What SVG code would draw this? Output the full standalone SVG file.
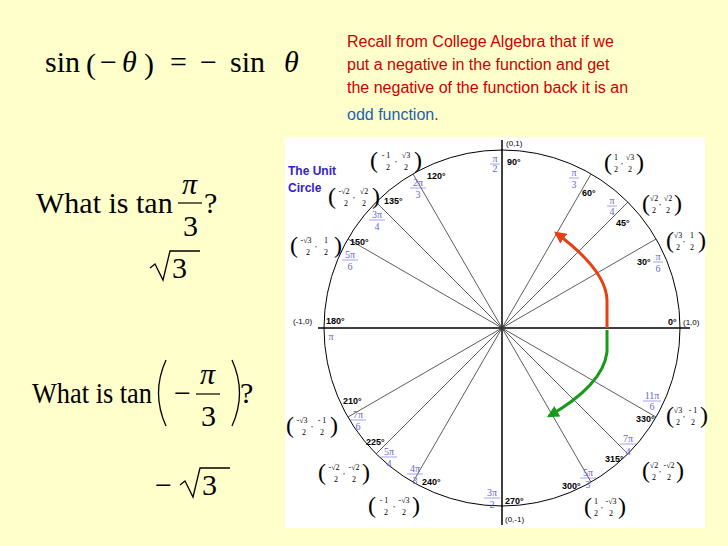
<svg xmlns="http://www.w3.org/2000/svg" width="728" height="546" viewBox="0 0 728 546">
<defs>
<style>
.m{font-family:"Liberation Serif",serif;font-size:30px;fill:#000}
.i{font-style:italic}
.r{font-family:"Liberation Sans",sans-serif;font-size:16px;fill:#cc0000}
.sp{stroke:#333;stroke-width:0.8}
.deg{font-family:"Liberation Sans",sans-serif;font-size:9px;font-weight:bold;fill:#000}
.rad{font-family:"Liberation Serif",serif;font-size:10px;fill:#6666dd;text-anchor:middle}
.co{font-family:"Liberation Serif",serif;font-size:8px;fill:#000;text-anchor:middle}
.par{font-family:"Liberation Serif",serif;font-size:24px;fill:#000}
</style>
<marker id="ar" viewBox="0 0 10 10" refX="8" refY="5" markerWidth="4" markerHeight="4" orient="auto"><path d="M0,0L10,5L0,10z" fill="#e84010"/></marker>
<marker id="ag" viewBox="0 0 10 10" refX="8" refY="5" markerWidth="4" markerHeight="4" orient="auto"><path d="M0,0L10,5L0,10z" fill="#1a9a1a"/></marker>
</defs>
<rect width="728" height="546" fill="#ffffcc"/>
<g id="eq1">
<text x="45" y="72" class="m" font-size="32">sin</text>
<text x="86" y="74" class="m" font-size="38">(</text>
<text x="100" y="72" class="m" font-size="32">−</text>
<text x="122" y="72" class="m i" font-size="32">θ</text>
<text x="144" y="74" class="m" font-size="38">)</text>
<text x="170" y="72" class="m" font-size="32">=</text>
<text x="200" y="72" class="m" font-size="32">−</text>
<text x="230" y="72" class="m" font-size="32">sin</text>
<text x="284" y="72" class="m i" font-size="32">θ</text>
</g>
<g id="note">
<text x="347" y="47" class="r">Recall from College Algebra that if we</text>
<text x="347" y="70" class="r">put a negative in the function and get</text>
<text x="347" y="93" class="r">the negative of the function back it is an</text>
<text x="347" y="120" class="r"><tspan style="fill:#1a5fb4">odd function</tspan>.</text>
</g>
<g id="q1">
<text x="36" y="213" class="m">What is tan</text>
<text x="182" y="194" class="m i">π</text>
<line x1="178" y1="203" x2="202" y2="203" stroke="#000" stroke-width="1.2"/>
<text x="183" y="236" class="m">3</text>
<text x="204" y="213" class="m">?</text>
</g>
<g id="a1">
<path d="M150,268 L155,264 L163,280 L170,251 L200,251" fill="none" stroke="#000" stroke-width="1.3"/>
<text x="172" y="278" class="m">3</text>
</g>
<g id="q2">
<text x="32" y="403" class="m" textLength="120" lengthAdjust="spacingAndGlyphs">What is tan</text>
<path d="M166,360 Q151,393 166,426" fill="none" stroke="#000" stroke-width="1.3"/>
<path d="M232,360 Q247,393 232,426" fill="none" stroke="#000" stroke-width="1.3"/>
<text x="174" y="403" class="m">−</text>
<text x="200" y="384" class="m i">π</text>
<line x1="196" y1="394" x2="220" y2="394" stroke="#000" stroke-width="1.2"/>
<text x="201" y="426" class="m">3</text>
<text x="240" y="403" class="m">?</text>
</g>
<g id="a2">
<text x="155" y="495" class="m">−</text>
<path d="M180,485 L185,481 L193,497 L200,468 L230,468" fill="none" stroke="#000" stroke-width="1.3"/>
<text x="202" y="495" class="m">3</text>
</g>
<g id="unitcircle">
<rect x="285" y="137" width="420" height="391" fill="#fff"/>
<text x="288" y="175" font-family="Liberation Sans,sans-serif" font-size="12" font-weight="bold" fill="#3322cc">The Unit</text>
<text x="288" y="192" font-family="Liberation Sans,sans-serif" font-size="12" font-weight="bold" fill="#3322cc">Circle</text>
<circle cx="502" cy="328" r="178" fill="none" stroke="#000" stroke-width="1"/>
<line x1="318" y1="328" x2="690" y2="328" stroke="#000" stroke-width="1.5"/>
<line x1="502" y1="140" x2="502" y2="525" stroke="#000" stroke-width="1.5"/>
<g class="sp">
<line x1="502" y1="328" x2="656" y2="239"/><line x1="502" y1="328" x2="628" y2="202"/><line x1="502" y1="328" x2="591" y2="174"/>
<line x1="502" y1="328" x2="413" y2="174"/><line x1="502" y1="328" x2="376" y2="202"/><line x1="502" y1="328" x2="348" y2="239"/>
<line x1="502" y1="328" x2="348" y2="417"/><line x1="502" y1="328" x2="376" y2="454"/><line x1="502" y1="328" x2="413" y2="482"/>
<line x1="502" y1="328" x2="591" y2="482"/><line x1="502" y1="328" x2="628" y2="454"/><line x1="502" y1="328" x2="656" y2="417"/>
</g>
<g class="deg">
<text x="507" y="165">90°</text><text x="582" y="196">60°</text><text x="616" y="226">45°</text><text x="637" y="265">30°</text>
<text x="668" y="325">0°</text><text x="683" y="325" font-weight="normal" font-size="8">(1,0)</text>
<text x="506" y="146" font-weight="normal" font-size="8">(0,1)</text>
<text x="427" y="179">120°</text><text x="384" y="204">135°</text><text x="350" y="245">150°</text>
<text x="326" y="324">180°</text><text x="293" y="324" font-weight="normal" font-size="8">(-1,0)</text>
<text x="343" y="404">210°</text><text x="366" y="445">225°</text><text x="422" y="485">240°</text>
<text x="505" y="504">270°</text><text x="505" y="522" font-weight="normal" font-size="8">(0,-1)</text>
<text x="562" y="489">300°</text><text x="605" y="462">315°</text><text x="636" y="422">330°</text>
</g>
<g class="rad">
<text x="495" y="162">π</text><line x1="490" y1="164" x2="500" y2="164" stroke="#6666dd" stroke-width="0.6"/><text x="495" y="172">2</text>
<text x="574" y="176">π</text><line x1="569" y1="178" x2="579" y2="178" stroke="#6666dd" stroke-width="0.6"/><text x="574" y="188">3</text>
<text x="612" y="204">π</text><line x1="607" y1="206" x2="617" y2="206" stroke="#6666dd" stroke-width="0.6"/><text x="612" y="215">4</text>
<text x="658" y="260">π</text><line x1="653" y1="262" x2="663" y2="262" stroke="#6666dd" stroke-width="0.6"/><text x="658" y="272">6</text>
<text x="418" y="186">2π</text><line x1="410" y1="188" x2="426" y2="188" stroke="#6666dd" stroke-width="0.6"/><text x="418" y="198">3</text>
<text x="377" y="218">3π</text><line x1="369" y1="220" x2="385" y2="220" stroke="#6666dd" stroke-width="0.6"/><text x="377" y="230">4</text>
<text x="350" y="258">5π</text><line x1="342" y1="260" x2="358" y2="260" stroke="#6666dd" stroke-width="0.6"/><text x="350" y="270">6</text>
<text x="331" y="340">π</text>
<text x="358" y="418">7π</text><line x1="350" y1="420" x2="366" y2="420" stroke="#6666dd" stroke-width="0.6"/><text x="358" y="430">6</text>
<text x="389" y="455">5π</text><line x1="381" y1="457" x2="397" y2="457" stroke="#6666dd" stroke-width="0.6"/><text x="389" y="467">4</text>
<text x="415" y="472">4π</text><line x1="407" y1="474" x2="423" y2="474" stroke="#6666dd" stroke-width="0.6"/><text x="415" y="484">3</text>
<text x="492" y="496">3π</text><line x1="484" y1="498" x2="500" y2="498" stroke="#6666dd" stroke-width="0.6"/><text x="492" y="508">2</text>
<text x="588" y="476">5π</text><line x1="580" y1="478" x2="596" y2="478" stroke="#6666dd" stroke-width="0.6"/><text x="588" y="488">3</text>
<text x="628" y="442">7π</text><line x1="620" y1="444" x2="636" y2="444" stroke="#6666dd" stroke-width="0.6"/><text x="628" y="455">4</text>
<text x="652" y="399">11π</text><line x1="643" y1="401" x2="661" y2="401" stroke="#6666dd" stroke-width="0.6"/><text x="652" y="410">6</text>
</g>
<g id="coords">
<g transform="translate(386,160)"><text class="par" x="-16" y="8">(</text><text class="co" x="0" y="-2">- 1</text><text class="co" x="2" y="10">2</text><text class="co" x="10" y="2">,</text><text class="co" x="20" y="-2">√3</text><text class="co" x="20" y="10">2</text><text class="par" x="28" y="8">)</text></g>
<g transform="translate(344,196)"><text class="par" x="-16" y="8">(</text><text class="co" x="0" y="-2">-√2</text><text class="co" x="2" y="10">2</text><text class="co" x="10" y="2">,</text><text class="co" x="20" y="-2">√2</text><text class="co" x="20" y="10">2</text><text class="par" x="28" y="8">)</text></g>
<g transform="translate(306,245)"><text class="par" x="-16" y="8">(</text><text class="co" x="0" y="-2">-√3</text><text class="co" x="2" y="10">2</text><text class="co" x="10" y="2">,</text><text class="co" x="20" y="-2">1</text><text class="co" x="20" y="10">2</text><text class="par" x="28" y="8">)</text></g>
<g transform="translate(302,425)"><text class="par" x="-16" y="8">(</text><text class="co" x="0" y="-2">-√3</text><text class="co" x="2" y="10">2</text><text class="co" x="10" y="2">,</text><text class="co" x="20" y="-2">- 1</text><text class="co" x="20" y="10">2</text><text class="par" x="28" y="8">)</text></g>
<g transform="translate(334,472)"><text class="par" x="-16" y="8">(</text><text class="co" x="0" y="-2">-√2</text><text class="co" x="2" y="10">2</text><text class="co" x="10" y="2">,</text><text class="co" x="20" y="-2">-√2</text><text class="co" x="20" y="10">2</text><text class="par" x="28" y="8">)</text></g>
<g transform="translate(384,505)"><text class="par" x="-16" y="8">(</text><text class="co" x="0" y="-2">- 1</text><text class="co" x="2" y="10">2</text><text class="co" x="10" y="2">,</text><text class="co" x="20" y="-2">-√3</text><text class="co" x="20" y="10">2</text><text class="par" x="28" y="8">)</text></g>
<g transform="translate(614,162)"><text class="par" x="-10" y="8">(</text><text class="co" x="2" y="-2">1</text><text class="co" x="2" y="10">2</text><text class="co" x="8" y="2">,</text><text class="co" x="16" y="-2">√3</text><text class="co" x="16" y="10">2</text><text class="par" x="22" y="8">)</text></g>
<g transform="translate(652,203)"><text class="par" x="-10" y="8">(</text><text class="co" x="2" y="-2">√2</text><text class="co" x="2" y="10">2</text><text class="co" x="8" y="2">,</text><text class="co" x="16" y="-2">√2</text><text class="co" x="16" y="10">2</text><text class="par" x="22" y="8">)</text></g>
<g transform="translate(676,240)"><text class="par" x="-10" y="8">(</text><text class="co" x="2" y="-2">√3</text><text class="co" x="2" y="10">2</text><text class="co" x="8" y="2">,</text><text class="co" x="16" y="-2">1</text><text class="co" x="16" y="10">2</text><text class="par" x="22" y="8">)</text></g>
<g transform="translate(676,415)"><text class="par" x="-10" y="8">(</text><text class="co" x="2" y="-2">√3</text><text class="co" x="2" y="10">2</text><text class="co" x="8" y="2">,</text><text class="co" x="17" y="-2">- 1</text><text class="co" x="17" y="10">2</text><text class="par" x="24" y="8">)</text></g>
<g transform="translate(652,470)"><text class="par" x="-10" y="8">(</text><text class="co" x="2" y="-2">√2</text><text class="co" x="2" y="10">2</text><text class="co" x="8" y="2">,</text><text class="co" x="17" y="-2">-√2</text><text class="co" x="17" y="10">2</text><text class="par" x="24" y="8">)</text></g>
<g transform="translate(594,506)"><text class="par" x="-10" y="8">(</text><text class="co" x="2" y="-2">1</text><text class="co" x="2" y="10">2</text><text class="co" x="8" y="2">,</text><text class="co" x="17" y="-2">-√3</text><text class="co" x="17" y="10">2</text><text class="par" x="24" y="8">)</text></g>
</g>
</g>
<g id="connectors">
<path d="M607,328 L607,300 Q606,270 556,233" fill="none" stroke="#e84010" stroke-width="3" marker-end="url(#ar)"/>
<path d="M607,330 L607,352 Q603,385 549,416" fill="none" stroke="#1a9a1a" stroke-width="3" marker-end="url(#ag)"/>
</g>
</svg>
